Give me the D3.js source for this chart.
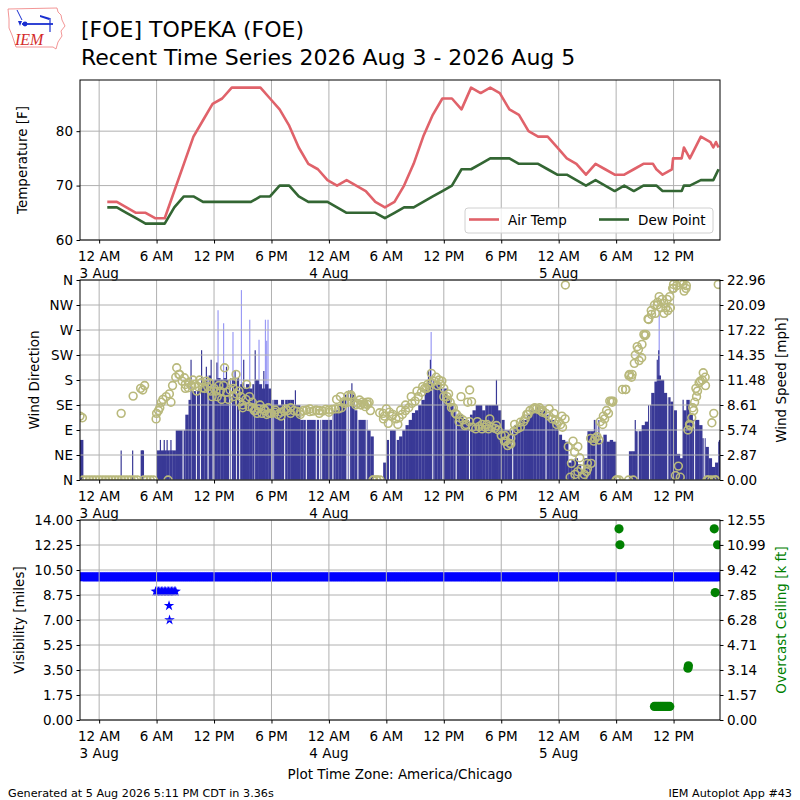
<!DOCTYPE html>
<html>
<head>
<meta charset="utf-8">
<script src="https://cdn.jsdelivr.net/npm/d3@7"></script>
<style>
  body { margin: 0; background: #fff; }
  svg { display: block; font-family: "DejaVu Sans", sans-serif; }
</style>
</head>
<body>
<div id="chart"></div>
<script>
// all times are hours after 12 AM 3 Aug 2026 (America/Chicago)

// hourly + special observations
const tempHours = [
  0.85, 1.85, 2.85, 3.85, 4.85, 5.85, 6.85, 7.85, 8.85, 9.85, 10.85, 11.85,
  12.85, 13.85, 14.85, 15.85, 16.85, 17.85, 18.85, 19.85, 20.85, 21.85, 22.85, 23.85,
  24.85, 25.85, 26.85, 27.85, 28.85, 29.85, 30.85, 31.85, 32.85, 33.85, 34.85, 35.85,
  36.85, 37.85, 38.85, 39.85, 40.85, 41.85, 42.85, 43.85, 44.85, 45.85, 46.85, 47.85,
  48.85, 49.85, 50.85, 51.85, 52.85, 53.85, 54.85, 55.85, 56.85, 57.85,
  58.2, 58.85, 59.83, 59.95, 60.85, 61.08, 61.7, 62.85, 63.85, 64.15, 64.43, 64.7
];
const airTemp = [
  67, 67, 66, 65, 65, 64, 64, 69, 74, 79, 82, 85,
  86, 88, 88, 88, 88, 86, 84, 81, 77, 74, 73, 71,
  70, 71, 70, 69, 67, 66, 67, 70, 74, 79, 83, 86,
  86, 84, 88, 87, 88, 87, 84, 83, 80, 79, 79, 77,
  75, 74, 72, 74, 73, 72, 72, 73, 74, 74,
  73, 72, 73, 75, 75, 77, 75, 79, 78, 77, 78, 77
];
const dewPoint = [
  66, 66, 65, 64, 63, 63, 63, 66, 68, 68, 67, 67,
  67, 67, 67, 67, 68, 68, 70, 70, 68, 67, 67, 67,
  66, 65, 65, 65, 65, 64, 65, 66, 66, 67, 68, 69,
  70, 73, 73, 74, 75, 75, 75, 74, 74, 74, 73, 72,
  72, 71, 70, 71, 70, 69, 70, 69, 70, 70,
  70, 69, 69, 69, 69, 70, 70, 71, 71, 71, 72, 73
];

// wind, 20 minute samples starting 10 PM 2 Aug
const windStart = -2;
const windStep = 1 / 3;
const windSpeed = [
  4.6, 0, 0, 0, 0, 0, 0, 0, 0, 0, 0, 0,
  0, 0, 0, 0, 0, 0, 0, 3.4, 0, 0, 0, 0,
  3.4, 3.4, 3.4, 3.4, 3.4, 3.4, 5.7, 5.7, 5.7, 7.5, 9.2, 10.2,
  10.2, 10.5, 11.5, 11.5, 12.0, 11.5, 11.5, 11.7, 11.5, 11.7, 11.5, 11.7,
  11.5, 11.7, 11.0, 10.5, 11.0, 10.5, 11.0, 11.5, 11.0, 10.5, 11.0, 10.5,
  9.2, 9.2, 8.6, 9.2, 9.2, 9.2, 9.2, 8.6, 8.6, 6.9, 6.9, 6.9,
  6.9, 6.9, 6.9, 6.9, 6.9, 6.9, 6.9, 8.0, 8.0, 8.6, 9.2, 9.8,
  10.3, 9.8, 8.0, 6.9, 6.9, 6.9, 5.7, 5.0, 0, 0, 0, 2.0,
  4.6, 5.7, 5.7, 4.6, 5.0, 5.7, 6.3, 6.9, 7.7, 8.0, 8.6, 9.2,
  10.3, 11.0, 11.5, 11.0, 11.0, 10.5, 10.5, 9.5, 8.6, 8.0, 7.5, 7.5,
  7.0, 6.9, 7.5, 8.0, 8.6, 8.6, 8.0, 8.6, 8.6, 8.6, 8.6, 8.0,
  6.9, 5.7, 5.7, 5.7, 6.3, 6.3, 6.9, 6.9, 7.5, 8.0, 8.0, 8.6,
  8.0, 8.0, 7.5, 6.9, 6.9, 6.3, 5.2, 4.6, 4.4, 2.0, 2.3, 2.5,
  1.8, 1.0, 2.5, 5.6, 5.6, 6.9, 5.0, 4.6, 5.2, 4.4, 4.6, 4.4,
  0, 0, 0, 0, 3.3, 3.3, 5.6, 5.6, 6.3, 6.7, 8.6, 10.0,
  11.3, 12.0, 11.5, 10.0, 9.5, 9.0, 8.0, 3.0, 2.5, 8.0, 9.2, 7.5,
  6.9, 6.9, 6.3, 4.8, 3.8, 2.5, 1.5, 2.0, 4.4
];
const windDir = [
  115, 0, 0, 0, 0, 0, 0, 0, 0, 0, 0, 0,
  0, 0, 0, 0, 0, 0, 0, 165, 0, 0, 0, 0,
  120, 130, 145, 150, 155, 170, 185, 190, 178, 172, 175, 170,
  172, 168, 175, 165, 168, 160, 165, 150, 160, 170, 158, 162,
  150, 155, 140, 135, 145, 132, 130, 125, 128, 120, 125, 130,
  120, 122, 118, 122, 124, 125, 120, 125, 124, 122, 125, 126,
  123, 124, 126, 125, 124, 127, 126, 127, 128, 128, 130, 138,
  140, 150, 140, 138, 135, 137, 136, 125, 0, 0, 0, 120,
  128, 122, 118, 110, 112, 118, 125, 130, 138, 142, 150, 158,
  165, 172, 175, 178, 170, 172, 165, 150, 140, 130, 118, 112,
  108, 100, 105, 95, 92, 96, 92, 95, 92, 95, 93, 90,
  80, 70, 62, 75, 88, 92, 95, 105, 118, 125, 128, 128,
  126, 125, 120, 115, 110, 108, 105, 115, 110, 60, 30, 50,
  15, 20, 10, 30, 75, 70, 78, 105, 115, 125, 142, 142,
  0, 0, 163, 163, 188, 190, 225, 235, 220, 260, 290, 305,
  315, 320, 310, 318, 325, 310, 345, 350, 355, 352, 350, 100,
  130, 165, 175, 180, 170, 0, 0, 0, 352
];
// extra one-minute direction reports
const dirExtraHours = [
  -1.75, 2.3, 3.55, 4.55, 4.75, 5.95, 6.2, 6.5, 7.2, 7.5, 8.1, 8.4, 8.9, 9.0, 9.3,
  9.8, 10.2, 10.5, 10.8, 11.2, 11.5, 11.8, 12.2, 12.5, 12.8, 13.1, 13.5, 13.9, 14.0,
  14.3, 14.6, 14.8, 15.0, 15.4, 15.7, 16.0, 16.2, 16.5, 16.8, 17.2, 17.5, 17.8, 18.4,
  19.0, 19.5, 20.0, 21.0, 22.0, 23.0, 24.0, 24.8, 25.2, 25.6, 26.0, 26.3, 26.8, 27.2,
  27.5, 27.8, 28.0, 28.2, 28.6, 29.0, 29.3, 29.7, 29.8, 30.2, 30.6, 31.2, 31.5, 32.0,
  32.6, 33.2, 33.8, 34.2, 34.5, 34.7, 35.2, 35.5, 35.8, 36.0, 36.4, 36.5, 36.8, 37.2,
  37.6, 37.8, 38.2, 38.5, 38.7, 38.9, 39.5, 40.0, 40.5, 40.8, 41.5, 42.4, 42.5, 42.9,
  43.0, 43.4, 44.0, 44.5, 44.8, 45.5, 46.0, 46.3, 47.0, 47.5, 47.8, 48.2, 48.4, 48.7,
  49.2, 49.5, 49.7, 50.0, 50.2, 50.5, 50.9, 51.0, 51.4, 51.8, 52.2, 52.6, 52.8, 53.2,
  53.5, 53.6, 54.1, 55.0, 55.3, 55.4, 55.6, 55.8, 55.9, 56.2, 56.4, 56.7, 56.9, 57.1,
  57.4, 57.7, 58.1, 58.3, 58.5, 58.8, 59.0, 59.2, 59.4, 59.6, 59.9, 60.0, 60.2, 60.5,
  60.7, 60.9, 61.1, 61.3, 61.5, 61.7, 61.9, 62.1, 62.2, 62.4, 62.5, 62.8, 63.1, 63.3,
  63.5, 64.0, 64.2, 64.4
];
const dirExtra = [
  112, 120, 151, 162, 170, 110, 125, 140, 0, 140, 202, 190, 184, 165, 166,
  180, 160, 180, 166, 178, 175, 150, 160, 170, 145, 202, 145, 175, 165,
  190, 160, 150, 130, 172, 150, 140, 125, 120, 135, 128, 118, 120, 126,
  115, 128, 130, 118, 128, 120, 122, 145, 150, 141, 152, 153, 135, 144,
  140, 132, 140, 140, 0, 0, 121, 110, 115, 102, 115, 100, 126, 135,
  150, 160, 168, 165, 168, 192, 185, 180, 178, 150, 144, 155, 130, 120,
  105, 150, 98, 140, 162, 141, 105, 100, 100, 110, 98, 80, 70, 66,
  65, 100, 104, 110, 118, 130, 130, 122, 128, 120, 100, 100, 95, 351,
  5, 70, 10, 60, 40, 5, 15, 20, 30, 75, 72, 100, 110, 120,
  142, 140, 0, 163, 0, 190, 185, 0, 210, 240, 215, 244, 262, 262,
  289, 298, 300, 315, 330, 325, 300, 310, 305, 330, 345, 352, 8, 25,
  5, 358, 340, 345, 90, 98, 112, 125, 140, 150, 160, 178, 193, 185,
  0, 103, 120, 0
];
// one-minute gusts and peaks, and missing one-minute reports
const gustHours = [12.42, 13.0, 13.98, 14.86, 15.73, 16.7, 17.37, 17.5, 17.64, 34.68, 58.5, 60.0];
const gustSpeed = [19.5, 18.0, 17.0, 21.8, 18.4, 16.1, 18.4, 16.0, 18.4, 17.0, 19.5, 17.2];
const peakHours = [2.3, 3.5, 4.5, 6.4, 6.8, 7.1, 7.5, 9.6, 10.7, 11.2, 11.7, 12.3, 13.3, 14.2,
  15.1, 16.3, 17.2, 20.5, 26.4, 34.4, 34.6, 41.5, 52.2, 56.0, 58.3, 58.45, 61.0, 64.8];
const peakSpeed = [3.4, 3.4, 3.4, 4.6, 4.6, 4.6, 4.6, 13.8, 14.9, 13.0, 13.8, 13.5, 13.0, 12.5,
  13.8, 14.9, 12.5, 10.3, 11.1, 12.6, 13.8, 11.5, 6.9, 6.9, 13.8, 14.9, 9.2, 4.6];
const missingHours = [8.77, 9.64, 10.16, 10.58, 11.38, 11.9, 13.64, 13.81, 14.33, 14.68, 16.25,
  18.16, 19.38, 21.64, 22.68, 23.03, 23.2, 24.42, 25.88, 25.98, 26.16, 27.03, 27.9, 30.33,
  31.03, 34.85, 35.9, 37.29, 38.68, 43.2, 46.68, 51.9, 52.5, 56.3, 57.5, 59.4, 62.2, 63.2];

// visibility, same 20 minute samples
const visibility = [
  10, 10, 10, 10, 10, 10, 10, 10, 10, 10, 10, 10,
  10, 10, 10, 10, 10, 10, 10, 10, 10, 10, 10, 10,
  10, 10, 10, 10, 10, 10, 10, 10, 10, 10, 10, 10,
  10, 10, 10, 10, 10, 10, 10, 10, 10, 10, 10, 10,
  10, 10, 10, 10, 10, 10, 10, 10, 10, 10, 10, 10,
  10, 10, 10, 10, 10, 10, 10, 10, 10, 10, 10, 10,
  10, 10, 10, 10, 10, 10, 10, 10, 10, 10, 10, 10,
  10, 10, 10, 10, 10, 10, 10, 10, 10, 10, 10, 10,
  10, 10, 10, 10, 10, 10, 10, 10, 10, 10, 10, 10,
  10, 10, 10, 10, 10, 10, 10, 10, 10, 10, 10, 10,
  10, 10, 10, 10, 10, 10, 10, 10, 10, 10, 10, 10,
  10, 10, 10, 10, 10, 10, 10, 10, 10, 10, 10, 10,
  10, 10, 10, 10, 10, 10, 10, 10, 10, 10, 10, 10,
  10, 10, 10, 10, 10, 10, 10, 10, 10, 10, 10, 10,
  10, 10, 10, 10, 10, 10, 10, 10, 10, 10, 10, 10,
  10, 10, 10, 10, 10, 10, 10, 10, 10, 10, 10, 10,
  10, 10, 10, 10, 10, 10, 10, 10, 10
];
const visExtraHours = [5.9, 6.05, 6.2, 6.35, 6.5, 6.65, 6.8, 6.95, 7.1, 7.25, 7.4, 7.55, 7.7, 7.85, 8.0, 7.3, 7.35];
const visExtra = [9, 9, 9, 9, 9, 9, 9, 9, 9, 9, 9, 9, 9, 9, 9, 8, 7];

// overcast ceiling, thousands of feet
const ceilHours = [54.3, 54.4, 58.0, 58.2, 58.4, 58.6, 58.8, 59.0, 59.2, 59.4, 59.6, 61.5, 61.55, 64.25, 64.35, 64.6];
const ceiling = [12.0, 11.0, 0.85, 0.85, 0.85, 0.85, 0.85, 0.85, 0.85, 0.85, 0.85, 3.25, 3.4, 12.0, 8.0, 11.0];

const tempTicks = [60, 70, 80];
const dirTicks = [0, 45, 90, 135, 180, 225, 270, 315, 360];
const dirTickLabels = ['N', 'NE', 'E', 'SE', 'S', 'SW', 'W', 'NW', 'N'];
const speedTickLabels = ['0.00', '2.87', '5.74', '8.61', '11.48', '14.35', '17.22', '20.09', '22.96'];
const visTickLabels = ['0.00', '1.75', '3.50', '5.25', '7.00', '8.75', '10.50', '12.25', '14.00'];
const ceilTickLabels = ['0.00', '1.57', '3.14', '4.71', '6.28', '7.85', '9.42', '10.99', '12.55'];

const L = 80, R = 720;
const FS = 13.5;
const gridColor = '#b0b0b0';
const base = new Date(2026, 7, 3);
const at = h => new Date(base.getTime() + h * 3600000);

const svg = d3.select('#chart').append('svg')
  .attr('width', 800)
  .attr('height', 800)
  .attr('viewBox', '0 0 800 800');
svg.append('rect').attr('width', 800).attr('height', 800).attr('fill', '#fff');

const x = d3.scaleTime().domain([at(-2), at(64.85)]).range([L, R]);
const xTicks = x.ticks(d3.timeHour.every(6));
const fmtHour = d3.timeFormat('%-I %p');
const fmtDay = d3.timeFormat('%-d %b');

const p1 = { top: 80, bottom: 240 };
const p2 = { top: 280, bottom: 480 };
const p3 = { top: 520, bottom: 720 };

const yTemp = d3.scaleLinear().domain([60, 89.4]).range([p1.bottom, p1.top]);
const yDir = d3.scaleLinear().domain([0, 360]).range([p2.bottom, p2.top]);
const ySpd = d3.scaleLinear().domain([0, 22.96]).range([p2.bottom, p2.top]);
const yVis = d3.scaleLinear().domain([0, 14]).range([p3.bottom, p3.top]);
const yCeil = d3.scaleLinear().domain([0, 12.555]).range([p3.bottom, p3.top]);

function clip(id, p) {
  svg.append('clipPath').attr('id', id)
    .append('rect').attr('x', L).attr('y', p.top).attr('width', R - L).attr('height', p.bottom - p.top);
}
clip('c1', p1); clip('c2', p2); clip('c3', p3);

function grid(p, y, vals) {
  const g = svg.append('g').attr('stroke', gridColor).attr('stroke-width', 1);
  g.selectAll('line.v').data(xTicks).join('line').attr('class', 'v')
    .attr('x1', d => x(d)).attr('x2', d => x(d)).attr('y1', p.top).attr('y2', p.bottom);
  g.selectAll('line.h').data(vals).join('line').attr('class', 'h')
    .attr('x1', L).attr('x2', R).attr('y1', d => y(d)).attr('y2', d => y(d));
}

function frame(p) {
  svg.append('rect').attr('x', L).attr('y', p.top).attr('width', R - L).attr('height', p.bottom - p.top)
    .attr('fill', 'none').attr('stroke', '#000').attr('stroke-width', 1);
}

function xAxis(p) {
  const g = svg.append('g').attr('transform', `translate(0,${p.bottom})`)
    .call(d3.axisBottom(x).tickValues(xTicks).tickSize(3.5).tickFormat(''));
  g.select('.domain').remove();
  const lab = svg.append('g').attr('font-size', FS).attr('text-anchor', 'middle');
  lab.selectAll('text').data(xTicks).join('text')
    .attr('x', d => x(d)).attr('y', p.bottom + 21)
    .text(d => fmtHour(d))
    .filter(d => d.getHours() === 0)
    .append('tspan').attr('x', d => x(d)).attr('dy', 16.5).text(d => fmtDay(d));
}

function yAxis(y, vals, labels, side) {
  const ax = side === 'left' ? d3.axisLeft(y) : d3.axisRight(y);
  const g = svg.append('g').attr('transform', `translate(${side === 'left' ? L : R},0)`)
    .call(ax.tickValues(vals).tickFormat((d, i) => labels[i]).tickSize(3.5).tickPadding(3.5));
  g.select('.domain').remove();
  g.attr('font-size', FS).attr('font-family', 'DejaVu Sans');
  g.selectAll('.tick text').attr('fill', '#000');
}

function yLabel(text, xPos, p, color) {
  svg.append('text')
    .attr('transform', `translate(${xPos},${(p.top + p.bottom) / 2}) rotate(-90)`)
    .attr('text-anchor', 'middle').attr('font-size', FS).attr('fill', color || '#000')
    .text(text);
}

// ---------- panel 1: temperature ----------
grid(p1, yTemp, tempTicks);
const tempPts = tempHours.map((h, i) => ({ t: at(h), air: airTemp[i], dew: dewPoint[i] }));
const g1 = svg.append('g').attr('clip-path', 'url(#c1)');
g1.append('path').datum(tempPts)
  .attr('d', d3.line().x(d => x(d.t)).y(d => yTemp(d.air)))
  .attr('fill', 'none').attr('stroke', '#e0626a').attr('stroke-width', 2.6).attr('stroke-linejoin', 'round');
g1.append('path').datum(tempPts)
  .attr('d', d3.line().x(d => x(d.t)).y(d => yTemp(d.dew)))
  .attr('fill', 'none').attr('stroke', '#336633').attr('stroke-width', 2.6).attr('stroke-linejoin', 'round');
frame(p1);
xAxis(p1);
yAxis(yTemp, tempTicks, tempTicks.map(String), 'left');
yLabel('Temperature [F]', 27, p1);

const leg = svg.append('g');
leg.append('rect').attr('x', 465).attr('y', 208).attr('width', 248).attr('height', 25).attr('rx', 3)
  .attr('fill', '#fff').attr('fill-opacity', 0.8).attr('stroke', '#d0d0d0');
leg.append('line').attr('x1', 469).attr('x2', 499).attr('y1', 219.5).attr('y2', 219.5)
  .attr('stroke', '#e0626a').attr('stroke-width', 2.6);
leg.append('text').attr('x', 508).attr('y', 224.5).attr('font-size', FS).text('Air Temp');
leg.append('line').attr('x1', 599).attr('x2', 629).attr('y1', 219.5).attr('y2', 219.5)
  .attr('stroke', '#336633').attr('stroke-width', 2.6);
leg.append('text').attr('x', 638).attr('y', 224.5).attr('font-size', FS).text('Dew Point');

// ---------- panel 2: wind ----------
const windPts = windSpeed.map((v, i) => ({ h: windStart + i * windStep, spd: v, dir: windDir[i] }));
const g2 = svg.append('g').attr('clip-path', 'url(#c2)');
g2.selectAll('line.gust').data(gustHours).join('line').attr('class', 'gust')
  .attr('x1', d => x(at(d))).attr('x2', d => x(at(d)))
  .attr('y1', p2.bottom).attr('y2', (d, i) => ySpd(gustSpeed[i]))
  .attr('stroke', '#9a9af5').attr('stroke-width', 1.2);
g2.selectAll('rect.spd').data(windPts).join('rect').attr('class', 'spd')
  .attr('x', d => x(at(d.h)))
  .attr('width', d => x(at(d.h + windStep)) - x(at(d.h)) + 0.2)
  .attr('y', d => ySpd(d.spd))
  .attr('height', d => p2.bottom - ySpd(d.spd))
  .attr('fill', '#393996');
g2.selectAll('line.miss').data(missingHours).join('line').attr('class', 'miss')
  .attr('x1', d => x(at(d))).attr('x2', d => x(at(d)))
  .attr('y1', p2.top).attr('y2', p2.bottom)
  .attr('stroke', '#fff').attr('stroke-width', 1);
g2.selectAll('line.peak').data(peakHours).join('line').attr('class', 'peak')
  .attr('x1', d => x(at(d))).attr('x2', d => x(at(d)))
  .attr('y1', p2.bottom).attr('y2', (d, i) => ySpd(peakSpeed[i]))
  .attr('stroke', '#393996').attr('stroke-width', 1.2);
grid(p2, yDir, dirTicks);
const dirPts = windPts.map(d => ({ h: d.h, dir: d.dir }))
  .concat(dirExtraHours.map((h, i) => ({ h: h, dir: dirExtra[i] })));
const g2b = svg.append('g').attr('clip-path', 'url(#c2)');
g2b.selectAll('circle').data(dirPts).join('circle')
  .attr('cx', d => x(at(d.h))).attr('cy', d => yDir(d.dir)).attr('r', 3.9)
  .attr('fill', 'none').attr('stroke', '#b9b97c').attr('stroke-width', 1.6);
frame(p2);
xAxis(p2);
yAxis(yDir, dirTicks, dirTickLabels, 'left');
yAxis(ySpd, speedTickLabels.map(Number), speedTickLabels, 'right');
yLabel('Wind Direction', 39, p2);
yLabel('Wind Speed [mph]', 786, p2);

// ---------- panel 3: visibility and ceiling ----------
const visTicks = visTickLabels.map(Number);
const ceilTicks = ceilTickLabels.map(Number);
// each 20 minute sample is marked across its interval, like the one-minute reports
const visPts = visibility.flatMap((v, i) => d3.range(8).map(k => ({ h: windStart + (i + k / 8) * windStep, v: v })))
  .concat(visExtraHours.map((h, i) => ({ h: h, v: visExtra[i] })));
const star = d3.symbol().type(d3.symbolStar).size(34);
const g3 = svg.append('g').attr('clip-path', 'url(#c3)');
g3.selectAll('path').data(visPts).join('path')
  .attr('transform', d => `translate(${x(at(d.h))},${yVis(d.v)})`)
  .attr('d', star).attr('fill', '#0000ff');
grid(p3, yVis, visTicks);
const g3b = svg.append('g').attr('clip-path', 'url(#c3)');
g3b.selectAll('circle').data(ceilHours).join('circle')
  .attr('cx', d => x(at(d))).attr('cy', (d, i) => yCeil(ceiling[i])).attr('r', 4.6)
  .attr('fill', '#008000');
frame(p3);
xAxis(p3);
yAxis(yVis, visTicks, visTickLabels, 'left');
yAxis(yCeil, ceilTicks, ceilTickLabels, 'right');
yLabel('Visibility [miles]', 24, p3);
yLabel('Overcast Ceiling [k ft]', 786, p3, '#008000');

// ---------- titles and footer ----------
svg.append('text').attr('x', 81).attr('y', 37).attr('font-size', 22).text('[FOE] TOPEKA (FOE)');
svg.append('text').attr('x', 81).attr('y', 65).attr('font-size', 22).text('Recent Time Series 2026 Aug 3 - 2026 Aug 5');
svg.append('text').attr('x', 400).attr('y', 779).attr('text-anchor', 'middle').attr('font-size', FS)
  .text('Plot Time Zone: America/Chicago');
svg.append('text').attr('x', 8).attr('y', 797).attr('font-size', 11.2)
  .text('Generated at 5 Aug 2026 5:11 PM CDT in 3.36s');
svg.append('text').attr('x', 792).attr('y', 797).attr('text-anchor', 'end').attr('font-size', 11.2)
  .text('IEM Autoplot App #43');

// IEM logo
const logo = svg.append('g');
logo.append('path')
  .attr('d', 'M8,9 L57,8 L58,12 L61,15 L62,20 L65,26 L61,31 L62,36 L58,42 L56,49 L53,47 L16,47 L14,41 L12,35 L9,28 L9,19 Z')
  .attr('fill', 'none').attr('stroke', '#f08a8a').attr('stroke-width', 0.9);
logo.append('line').attr('x1', 22).attr('y1', 24).attr('x2', 53).attr('y2', 24).attr('stroke', '#1a2fd0').attr('stroke-width', 1.8);
logo.append('circle').attr('cx', 25).attr('cy', 24).attr('r', 2.4).attr('fill', '#1a2fd0');
logo.append('path').attr('d', 'M18,21 L22,21 L20,26 Z').attr('fill', '#1a2fd0');
logo.append('path').attr('d', 'M40,15 L50,18 L49,20 L40,17 Z').attr('fill', '#1a2fd0');
logo.append('line').attr('x1', 50).attr('y1', 18).attr('x2', 50).attr('y2', 32).attr('stroke', '#1a2fd0').attr('stroke-width', 1.2);
logo.append('line').attr('x1', 17).attr('y1', 10).attr('x2', 22).attr('y2', 20).attr('stroke', '#1a2fd0').attr('stroke-width', 1);
logo.append('text').attr('x', 15).attr('y', 45).attr('font-family', 'Liberation Serif')
  .attr('font-style', 'italic').attr('font-size', 16).attr('fill', '#d42a2a').text('IEM');
</script>
</body>
</html>
